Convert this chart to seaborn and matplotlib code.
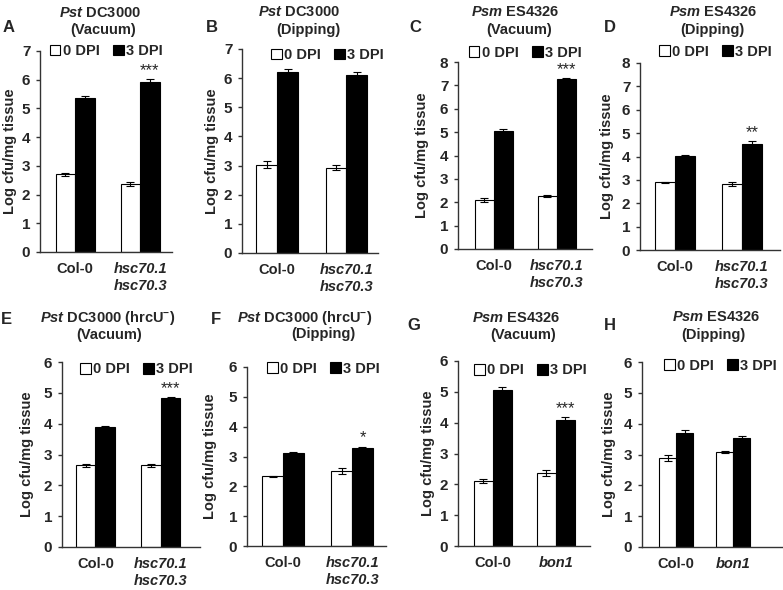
import pandas as pd
import numpy as np
import seaborn as sns
import matplotlib.pyplot as plt
from matplotlib.patches import Patch

hsc_lines = ["Col-0", "hsc70.1\nhsc70.3"]
bon_lines = ["Col-0", "bon1"]
dpi_levels = ["0 DPI", "3 DPI"]

# A  Pst DC3000 (Vacuum)
a_0dpi = [2.70, 2.37]
a_0dpi_err = [0.04, 0.08]
a_3dpi = [5.35, 5.93]
a_3dpi_err = [0.07, 0.09]
a_stars = ["", "***"]

# B  Pst DC3000 (Dipping)
b_0dpi = [3.02, 2.93]
b_0dpi_err = [0.12, 0.08]
b_3dpi = [6.22, 6.12]
b_3dpi_err = [0.08, 0.08]
b_stars = ["", ""]

# C  Psm ES4326 (Vacuum)
c_0dpi = [2.10, 2.27]
c_0dpi_err = [0.07, 0.03]
c_3dpi = [5.05, 7.27]
c_3dpi_err = [0.10, 0.03]
c_stars = ["", "***"]

# D  Psm ES4326 (Dipping)
d_0dpi = [2.90, 2.82]
d_0dpi_err = [0.03, 0.08]
d_3dpi = [4.02, 4.55]
d_3dpi_err = [0.03, 0.10]
d_stars = ["", "**"]

# E  Pst DC3000 (hrcU-) (Vacuum)
e_0dpi = [2.65, 2.65]
e_0dpi_err = [0.04, 0.05]
e_3dpi = [3.90, 4.82]
e_3dpi_err = [0.02, 0.03]
e_stars = ["", "***"]

# F  Pst DC3000 (hrcU-) (Dipping)
f_0dpi = [2.33, 2.50]
f_0dpi_err = [0.01, 0.10]
f_3dpi = [3.13, 3.30]
f_3dpi_err = [0.02, 0.03]
f_stars = ["", "*"]

# G  Psm ES4326 (Vacuum), bon1
g_0dpi = [2.10, 2.38]
g_0dpi_err = [0.07, 0.10]
g_3dpi = [5.05, 4.08]
g_3dpi_err = [0.10, 0.10]
g_stars = ["", "***"]

# H  Psm ES4326 (Dipping), bon1
h_0dpi = [2.90, 3.08]
h_0dpi_err = [0.10, 0.03]
h_3dpi = [3.70, 3.55]
h_3dpi_err = [0.10, 0.04]
h_stars = ["", ""]

pst = r"$\mathbfit{Pst}$ DC3000"
psm = r"$\mathbfit{Psm}$ ES4326"
hrc = r"$\mathbfit{Pst}$ DC3000 (hrcU$^{\mathbf{-}}$)"

panels = [
    ("A", hsc_lines, a_0dpi, a_0dpi_err, a_3dpi, a_3dpi_err, a_stars, 7, pst, "(Vacuum)"),
    ("B", hsc_lines, b_0dpi, b_0dpi_err, b_3dpi, b_3dpi_err, b_stars, 7, pst, "(Dipping)"),
    ("C", hsc_lines, c_0dpi, c_0dpi_err, c_3dpi, c_3dpi_err, c_stars, 8, psm, "(Vacuum)"),
    ("D", hsc_lines, d_0dpi, d_0dpi_err, d_3dpi, d_3dpi_err, d_stars, 8, psm, "(Dipping)"),
    ("E", hsc_lines, e_0dpi, e_0dpi_err, e_3dpi, e_3dpi_err, e_stars, 6, hrc, "(Vacuum)"),
    ("F", hsc_lines, f_0dpi, f_0dpi_err, f_3dpi, f_3dpi_err, f_stars, 6, hrc, "(Dipping)"),
    ("G", bon_lines, g_0dpi, g_0dpi_err, g_3dpi, g_3dpi_err, g_stars, 6, psm, "(Vacuum)"),
    ("H", bon_lines, h_0dpi, h_0dpi_err, h_3dpi, h_3dpi_err, h_stars, 6, psm, "(Dipping)"),
]

# layout in pixels: axes box (left, top, right, bottom), xlim, legend anchor,
# letter pos, title line positions, ylabel centre x
layout = {
    "A": dict(box=(40, 51, 172, 252), xlim=(-0.54, 1.49), leg=(0.50, 1.00), letter=(9, 27), t1=(100, 13), t2=(103, 30), yl=10),
    "B": dict(box=(242, 49, 378, 253), xlim=(-0.51, 1.46), leg=(0.63, 0.97), letter=(212, 28), t1=(299, 12), t2=(308, 30), yl=212),
    "C": dict(box=(458, 62, 592, 249), xlim=(-0.57, 1.56), leg=(0.50, 1.05), letter=(415, 27), t1=(515, 12), t2=(519, 30), yl=422),
    "D": dict(box=(640, 63, 780, 250), xlim=(-0.52, 1.57), leg=(0.54, 1.06), letter=(610, 27), t1=(713, 12), t2=(712, 30), yl=607),
    "E": dict(box=(62, 362, 200, 547), xlim=(-0.51, 1.60), leg=(0.54, 0.96), letter=(6, 320), t1=(108, 318), t2=(109, 335), yl=27),
    "F": dict(box=(247, 367, 386, 546), xlim=(-0.52, 1.49), leg=(0.55, 0.99), letter=(216, 320), t1=(305, 318), t2=(323, 334), yl=210),
    "G": dict(box=(458, 361, 590, 546), xlim=(-0.55, 1.54), leg=(0.55, 0.95), letter=(414, 325), t1=(516, 318), t2=(523, 335), yl=428),
    "H": dict(box=(642, 362, 782, 547), xlim=(-0.60, 1.86), leg=(0.56, 0.98), letter=(610, 325), t1=(716, 317), t2=(713, 335), yl=609),
}

sns.set_theme(style="ticks")
plt.rcParams.update({
    "font.family": ["Liberation Sans", "DejaVu Sans"],
    "font.weight": "bold",
    "font.size": 10.5,
    "mathtext.fontset": "custom",
    "mathtext.rm": "Liberation Sans:bold",
    "mathtext.bf": "Liberation Sans:bold",
    "mathtext.it": "Liberation Sans:italic:bold",
    "mathtext.bfit": "Liberation Sans:italic:bold",
    "axes.linewidth": 1.0,
    "axes.edgecolor": "#333333",
})

W, H = 783, 590
fig = plt.figure(figsize=(W / 100, H / 100), dpi=100)

for letter, lines, d0, e0, d3, e3, stars, ymax, title1, title2 in panels:
    lay = layout[letter]
    l, t, r, b = lay["box"]
    ax = fig.add_axes([l / W, 1 - b / H, (r - l) / W, (b - t) / H])

    df = pd.DataFrame({
        "line": lines * 2,
        "dpi": [dpi_levels[0]] * 2 + [dpi_levels[1]] * 2,
        "value": d0 + d3,
    })
    sns.barplot(data=df, x="line", y="value", hue="dpi", order=lines,
                hue_order=dpi_levels, palette={"0 DPI": "white", "3 DPI": "black"},
                edgecolor="black", linewidth=0.8, width=0.6, saturation=1,
                errorbar=None, legend=False, ax=ax)

    for cont, err in zip(ax.containers, [e0, e3]):
        xs = [p.get_x() + p.get_width() / 2 for p in cont]
        ys = [p.get_height() for p in cont]
        ax.errorbar(xs, ys, yerr=err, fmt="none", ecolor="black",
                    elinewidth=0.8, capsize=3, capthick=0.8, zorder=5)

    for p, s, e in zip(ax.containers[1], stars, e3):
        if s:
            ax.annotate(s, (p.get_x() + p.get_width() / 2, p.get_height() + e),
                        xytext=(0, 1), textcoords="offset points",
                        ha="center", va="bottom", fontsize=12, fontweight="normal")

    ax.set_ylim(0, ymax)
    ax.set_yticks(range(0, ymax + 1))
    ax.set_xlim(*lay["xlim"])
    ax.set_xlabel("")
    ax.set_ylabel("Log cfu/mg tissue", fontsize=10.5, fontweight="bold")
    ax.yaxis.set_label_coords((lay["yl"] + 7 - l) / (r - l), 0.5)
    sns.despine(ax=ax)
    ax.tick_params(axis="x", length=0, pad=7, labelsize=10.5)
    ax.tick_params(axis="y", length=3, width=1, pad=4, labelsize=11, color="#333333")
    for lbl in ax.get_xticklabels() + ax.get_yticklabels():
        lbl.set_fontweight("bold")
    for lbl in ax.get_xticklabels():
        lbl.set_linespacing(1.3)
        if lbl.get_text() != "Col-0":
            lbl.set_fontstyle("italic")

    handles = [Patch(facecolor="white", edgecolor="black", linewidth=0.8, label="0 DPI"),
               Patch(facecolor="black", edgecolor="black", linewidth=0.8, label="3 DPI")]
    ax.legend(handles=handles, loc="center", bbox_to_anchor=lay["leg"], ncol=2,
              frameon=False, handlelength=0.75, handleheight=0.75,
              handletextpad=0.15, columnspacing=0.9, borderpad=0,
              borderaxespad=0, prop={"weight": "bold", "size": 10.5})

    fig.text(lay["letter"][0] / W, 1 - lay["letter"][1] / H, letter,
             ha="center", va="center", fontsize=12, fontweight="bold")
    fig.text(lay["t1"][0] / W, 1 - lay["t1"][1] / H, title1,
             ha="center", va="center", fontsize=10.5, fontweight="bold")
    fig.text(lay["t2"][0] / W, 1 - lay["t2"][1] / H, title2,
             ha="center", va="center", fontsize=10.5, fontweight="bold")

fig.savefig("out.png", dpi=100)
